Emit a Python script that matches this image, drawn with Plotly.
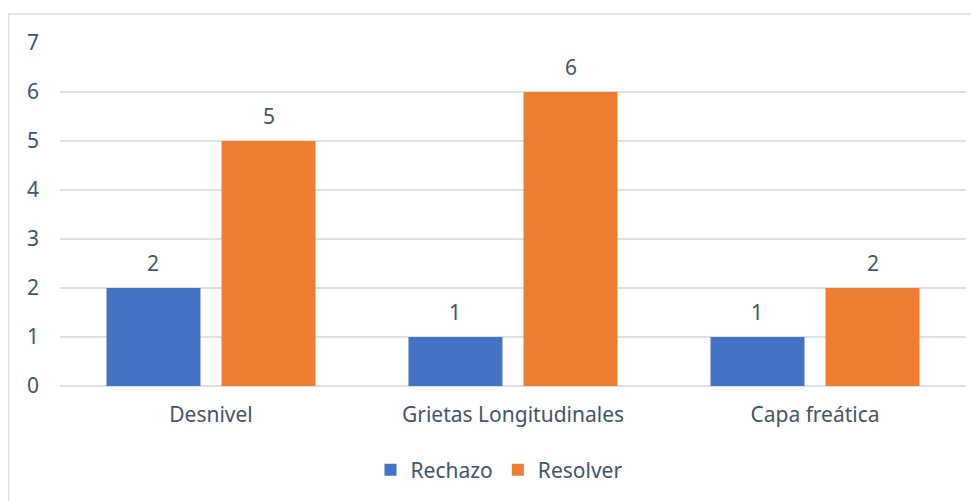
import plotly.graph_objects as go

categories = ["Desnivel", "Grietas Longitudinales", "Capa freática"]
rechazo = [2, 1, 1]
resolver = [5, 6, 2]
y_ticks = [0, 1, 2, 3, 4, 5, 6, 7]

TEXT = "#44546A"
FONT = "Noto Sans"
FS = 21
# page body has an 8px margin, so the figure is drawn 8px smaller and offset
W, H = 971, 493
L, R, T, B = 52, 13, 35, 114
pw, ph = W - L - R, H - T - B

fig = go.Figure()
fig.add_trace(go.Bar(name="Rechazo", x=categories, y=rechazo,
                     marker=dict(color="#4472C4", line=dict(width=0))))
fig.add_trace(go.Bar(name="Resolver", x=categories, y=resolver,
                     marker=dict(color="#ED7D31", line=dict(width=0))))

bargap = 0.238
bargroupgap = 0.183
slot = (1 - bargap) / 2
annotations = []
for series, off in ((rechazo, -slot / 2), (resolver, slot / 2)):
    for i, v in enumerate(series):
        annotations.append(dict(x=i + off, y=v, xref="x", yref="y", text=str(v),
                                showarrow=False, yanchor="middle", yshift=25,
                                font=dict(family=FONT, size=FS, color=TEXT)))

def px_x(p):
    return (p - L) / pw

def px_y(p):
    return (H - B - p) / ph

fig.add_shape(type="rect", xref="paper", yref="paper",
              x0=px_x(0.5), x1=px_x(990), y0=px_y(520), y1=px_y(6),
              line=dict(color="#D9DDE3", width=1.5), fillcolor="rgba(0,0,0,0)", layer="below")

fig.update_layout(
    width=W, height=H,
    margin=dict(l=L, r=R, t=T, b=B),
    paper_bgcolor="white", plot_bgcolor="white",
    barmode="group", bargap=bargap, bargroupgap=bargroupgap,
    font=dict(family=FONT, size=FS, color=TEXT),
    annotations=annotations,
    legend=dict(orientation="h", x=0.5 - 14 / pw, xanchor="center", y=px_y(462), yanchor="middle",
                font=dict(family=FONT, size=FS, color=TEXT), itemwidth=30,
                tracegroupgap=0, traceorder="normal"),
    xaxis=dict(showgrid=False, showline=False, ticks="", ticklabelstandoff=14,
               tickfont=dict(family=FONT, size=FS, color=TEXT)),
    yaxis=dict(range=[0, 7], tickvals=y_ticks, showgrid=True, gridcolor="#DDE0E4",
               gridwidth=1.5, zeroline=True, zerolinecolor="#DDE0E4", zerolinewidth=1.5,
               showline=False, ticks="", ticklabelstandoff=20,
               tickfont=dict(family=FONT, size=FS, color=TEXT)),
)

fig.write_html("out.html")
